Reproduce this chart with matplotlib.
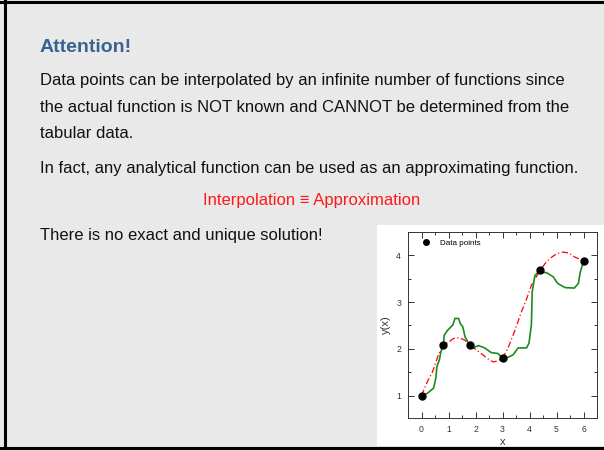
import matplotlib.pyplot as plt
from matplotlib.patches import Rectangle
from matplotlib.lines import Line2D
from matplotlib.ticker import MultipleLocator

# tabulated data points
x_pts = [0.0, 0.8, 1.8, 3.0, 4.4, 6.0]
y_pts = [1.0, 2.08, 2.08, 1.8, 3.68, 3.87]

# smooth interpolating curve (red, dash-dot)
x_red = [0.0, 0.1, 0.22, 0.32, 0.41, 0.5, 0.6, 0.7, 0.8, 0.92, 1.03, 1.15, 1.28, 1.42,
         1.59, 1.8, 2.0, 2.21, 2.42, 2.65, 2.83, 3.0, 3.2, 3.45, 3.7, 3.9, 4.07, 4.25,
         4.4, 4.57, 4.75, 4.94, 5.1, 5.25, 5.45, 5.69, 5.85, 6.0]
y_red = [1.0, 1.14, 1.30, 1.41, 1.51, 1.66, 1.83, 1.96, 2.08, 2.12, 2.15, 2.21, 2.24, 2.23,
         2.19, 2.08, 1.99, 1.90, 1.80, 1.72, 1.74, 1.80, 2.01, 2.38, 2.79, 3.08, 3.36, 3.54,
         3.68, 3.82, 3.93, 4.01, 4.05, 4.07, 4.05, 3.96, 3.92, 3.87]

# wiggly alternative curve (green)
x_grn = [0.0, 0.22, 0.45, 0.53, 0.57, 0.66, 0.72, 0.81, 0.84, 0.97, 1.16, 1.24, 1.37,
         1.44, 1.53, 1.61, 1.78, 1.90, 1.99, 2.11, 2.34, 2.58, 2.83, 2.98, 3.14, 3.39,
         3.58, 3.89, 3.98, 4.07, 4.10, 4.20, 4.32, 4.63, 4.88, 5.04, 5.32, 5.66, 5.81,
         5.88, 6.0]
y_grn = [1.0, 1.05, 1.16, 1.37, 1.62, 1.76, 1.94, 2.07, 2.29, 2.40, 2.51, 2.65, 2.65,
         2.54, 2.47, 2.26, 2.08, 2.01, 2.04, 2.07, 2.02, 1.92, 1.90, 1.82, 1.80, 1.87,
         2.02, 2.02, 2.12, 2.51, 3.22, 3.57, 3.64, 3.63, 3.54, 3.40, 3.31, 3.30, 3.40,
         3.64, 3.87]

bg = '#e9e9e9'
fig = plt.figure(figsize=(6.04, 4.5), dpi=100, facecolor=bg)
plt.rcParams['font.family'] = ['Liberation Sans', 'DejaVu Sans']

# slide frame
fig.add_artist(Line2D([0, 1], [1 - 1.5 / 450, 1 - 1.5 / 450], color='black', lw=2.2, transform=fig.transFigure))
fig.add_artist(Line2D([0, 1], [2.5 / 450, 2.5 / 450], color='black', lw=2.2, transform=fig.transFigure))
fig.add_artist(Line2D([5 / 604, 5 / 604], [0, 1], color='black', lw=2.2, transform=fig.transFigure))

def px(xp, yp):
    return xp / 604, 1 - yp / 450

fig.text(*px(40, 47), 'Attention!', fontsize=14, fontweight='bold', color='#3a6391', va='center')
body = [
    (81, 'Data points can be interpolated by an infinite number of functions since'),
    (107, 'the actual function is NOT known and CANNOT be determined from the'),
    (133, 'tabular data.'),
    (169, 'In fact, any analytical function can be used as an approximating function.'),
    (235, 'There is no exact and unique solution!'),
]
for yp, s in body:
    fig.text(*px(40, yp), s, fontsize=12, color='#111111', va='center')
fig.text(*px(312, 200), 'Interpolation \u2261 Approximation', fontsize=12, color='#ff1a1a',
         va='center', ha='center')

# white panel for the inset chart
fig.add_artist(Rectangle(px(377, 446), (604 - 377) / 604, (446 - 225) / 450, facecolor='white',
                         edgecolor='none', transform=fig.transFigure, zorder=0))

ax = fig.add_axes([408 / 604, 1 - 418 / 450, 189 / 604, 186 / 450])
ax.plot(x_red, y_red, color='red', lw=0.9, ls='-.', dashes=(5, 2, 1, 2))
ax.plot(x_grn, y_grn, color='#1e8a1e', lw=1.2)
ax.plot(x_pts, y_pts, 'o', color='black', ms=5, ls='none', label='Data points')
ax.set_xlim(-0.5, 6.5)
ax.set_ylim(0.52, 4.5)
ax.xaxis.set_major_locator(MultipleLocator(1))
ax.xaxis.set_minor_locator(MultipleLocator(0.5))
ax.yaxis.set_major_locator(MultipleLocator(1))
ax.yaxis.set_minor_locator(MultipleLocator(0.5))
ax.tick_params(which='both', direction='in', top=True, right=True, labelsize=6.2, pad=5,
               color='#333333', labelcolor='#333333', width=0.7)
ax.tick_params(which='major', length=4)
ax.tick_params(which='minor', length=2)
for s in ax.spines.values():
    s.set_linewidth(0.7)
    s.set_color('#333333')
ax.set_xlabel('x', fontsize=8, labelpad=2, color='#333333')
ax.set_ylabel('y(x)', fontsize=8, labelpad=4, color='#333333')
ax.legend(loc='upper left', frameon=False, fontsize=5.8, handletextpad=0.5, markerscale=0.8,
          borderaxespad=0.3, borderpad=0.6, handlelength=2.6)

fig.savefig('out.png', dpi=100, facecolor=bg)
